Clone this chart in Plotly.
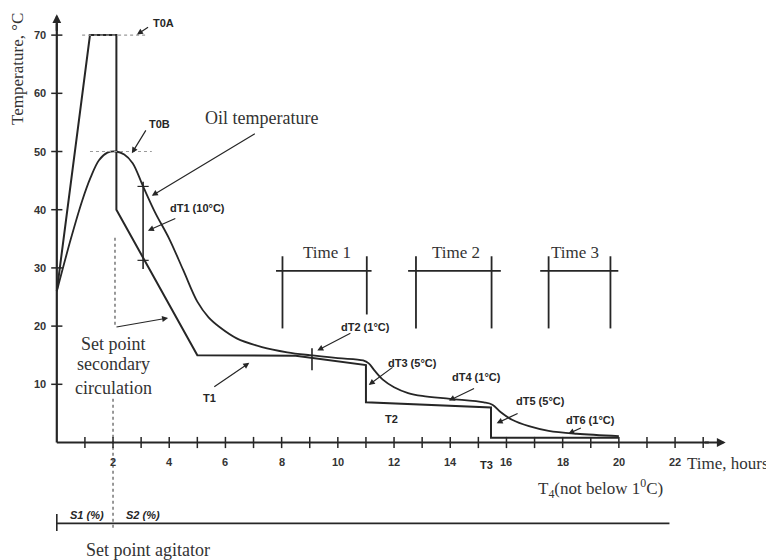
import plotly.graph_objects as go

# ---------------- data ----------------
# Set point secondary circulation (piecewise)
sp_x = [0, 1.18, 2.12, 2.12, 5.0, 8.5, 11.0, 11.0, 15.45, 15.45, 20.0]
sp_y = [26, 70, 70, 40, 15, 14.9, 13.3, 6.9, 6.0, 0.8, 0.8]

# Oil temperature
oil_x = [0, 0.5, 0.9, 1.2, 1.5, 1.8, 2.1, 2.4, 2.7, 3.07, 3.5, 4.0, 4.5, 5.0, 5.4, 5.8, 6.4, 7.3,
         8.2, 9.0, 10.0, 10.9, 11.1, 11.3, 11.6, 12.0, 12.5, 13.0, 14.0, 15.2, 15.5, 15.8, 16.2,
         16.8, 17.5, 18.5, 20.0]
oil_y = [26, 35, 41.5, 45.5, 48.5, 49.8, 50, 49.5, 48, 44, 39.5, 35, 29.6, 24.2, 21.5, 19.8, 17.9, 16.4,
         15.5, 15.0, 14.5, 14.1, 13.6, 12.4, 10.8, 9.5, 8.5, 8.0, 7.5, 6.9, 6.5, 5.2, 3.9,
         2.8, 2.0, 1.5, 1.1]

x_ticks = list(range(1, 24))
x_tick_labels = [2, 4, 6, 8, 10, 12, 14, 16, 18, 20, 22]
y_ticks = [10, 20, 30, 40, 50, 60, 70]

time_names = ["Time 1", "Time 2", "Time 3"]
time_title_x = [9.6, 14.2, 18.45]
time_left = [8.03, 12.78, 17.5]
time_right = [11.03, 15.47, 19.7]
time_bar_left = [7.8, 12.5, 17.2]
time_bar_right = [11.2, 15.8, 19.98]
time_left_bottom = [19.6, 19.6, 19.6]
time_right_bottom = [22.0, 19.6, 19.6]

# dT annotations: label, label x, label y, arrow tail x, tail y, head x, head y
dt_labels = ["dT1 (10°C)", "dT2 (1°C)", "dT3 (5°C)", "dT4 (1°C)", "dT5 (5°C)", "dT6 (1°C)"]
dt_lx = [5.0, 10.97, 12.67, 14.95, 17.2, 19.0]
dt_ly = [40.3, 19.9, 13.7, 11.2, 7.2, 3.8]
dt_tx = [4.27, 10.5, 12.0, 14.9, 16.45, 18.7]
dt_ty = [38.6, 18.9, 13.1, 9.4, 5.1, 2.6]
dt_hx = [3.24, 9.27, 11.1, 13.95, 15.65, 18.2]
dt_hy = [36.4, 15.8, 9.9, 7.2, 3.3, 1.5]

INK = "#262626"
SERIF = "Liberation Serif, Times New Roman, serif"
SANS = "Liberation Sans, Arial, sans-serif"

fig = go.Figure()

def line(x, y, width=2, dash="solid", color=INK, shape="linear"):
    fig.add_trace(go.Scatter(x=x, y=y, mode="lines", hoverinfo="skip", showlegend=False,
                             line=dict(color=color, width=width, dash=dash, shape=shape)))

# curves
line(sp_x, sp_y, width=2)
line(oil_x, oil_y, width=1.8, shape="spline")

# T0A / T0B dotted guides
line([0.9, 3.2], [70, 70], width=1.2, dash="dot", color="#9a9a9a")
line([1.18, 3.38], [50, 50], width=1.2, dash="dot", color="#9a9a9a")

# dT1 and dT2 measurement bars
line([3.07, 3.07], [44.8, 29.8], width=1.6)
fig.add_trace(go.Scatter(x=[3.07, 3.07], y=[44, 31.3], mode="markers", hoverinfo="skip", showlegend=False,
                         marker=dict(symbol="line-ew", size=8, line=dict(width=1.2, color=INK))))
line([9.08, 9.08], [16.2, 12.4], width=1.6)

# Time windows
for i in range(3):
    line([time_bar_left[i], time_bar_right[i]], [29.5, 29.5], width=1.8)
    line([time_left[i], time_left[i]], [32.0, time_left_bottom[i]], width=1.8)
    line([time_right[i], time_right[i]], [32.0, time_right_bottom[i]], width=1.8)

# set point secondary circulation bracket
line([2.07, 2.07], [35.2, 19.8], width=1.2, dash="dot", color="#555")
# set point agitator dashed line
line([2.0, 2.0], [7.5, -15], width=1.2, dash="dot", color="#555")

# agitator row
line([0, 21.8], [-13.9, -13.9], width=1.6)
line([0, 0], [-12.3, -15.2], width=1.6)

# axes lines
line([0, 0], [0, 72], width=2.2)
line([0, 23.2], [0, 0], width=2.2)

# ticks
fig.add_trace(go.Scatter(x=x_ticks, y=[0] * len(x_ticks), mode="markers", hoverinfo="skip", showlegend=False,
                         marker=dict(symbol="line-ns", size=8, line=dict(width=1.5, color=INK))))
fig.add_trace(go.Scatter(x=[0] * len(y_ticks), y=y_ticks, mode="markers", hoverinfo="skip", showlegend=False,
                         marker=dict(symbol="line-ew", size=8, line=dict(width=1.5, color=INK))))

ann = []

def arrow(hx, hy, tx, ty, width=1.2, head=2, size=1.0):
    ann.append(dict(x=hx, y=hy, ax=tx, ay=ty, xref="x", yref="y", axref="x", ayref="y", text="",
                    showarrow=True, arrowhead=head, arrowsize=size, arrowwidth=width, arrowcolor=INK,
                    standoff=0, startstandoff=0))

def text(x, y, s, size=12, family=SANS, color=INK, xanchor="center", yanchor="middle", angle=0):
    ann.append(dict(x=x, y=y, xref="x", yref="y", text=s, showarrow=False, xanchor=xanchor, yanchor=yanchor,
                    textangle=angle, font=dict(size=size, family=family, color=color)))

# axis arrowheads
arrow(0, 73.6, 0, 70.5, width=2.2, head=2, size=0.8)
arrow(23.8, 0, 23.0, 0, width=2.2, head=2, size=0.8)

# tick labels
for v in x_tick_labels:
    text(v, -3.4, "<b>" + str(v) + "</b>", size=11, family=SANS, color="#333")
for v in y_ticks:
    text(-0.32, v, "<b>" + str(v) + "</b>", size=11, family=SANS, color="#333", xanchor="right")

# axis titles
text(-1.38, 64.2, "Temperature, °C", size=17, family=SERIF, color="#333", angle=-90)
text(22.35, -3.6, "Time, hours", size=17, family=SERIF, color="#333", xanchor="left")
text(19.35, -7.9, "T<sub>4</sub>(not below 1<sup>0</sup>C)", size=17, family=SERIF, color="#333")

# labels with arrows
text(3.8, 72.0, "<b>T0A</b>", size=11)
arrow(2.85, 70.1, 3.3, 71.5)
text(3.67, 54.7, "<b>T0B</b>", size=11)
arrow(2.67, 49.7, 3.2, 53.9)
text(7.3, 55.7, "Oil temperature", size=18, family=SERIF, color="#333")
arrow(3.38, 42.4, 7.1, 53.2)

for i in range(len(dt_labels)):
    text(dt_lx[i], dt_ly[i], "<b>" + dt_labels[i] + "</b>", size=11)
    arrow(dt_hx[i], dt_hy[i], dt_tx[i], dt_ty[i])

# set point secondary circulation
arrow(3.96, 21.4, 2.07, 19.8)
text(2.0, 17.0, "Set point", size=18, family=SERIF, color="#333")
text(2.0, 13.5, "secondary", size=18, family=SERIF, color="#333")
text(2.0, 9.4, "circulation", size=18, family=SERIF, color="#333")

# T labels
text(5.45, 7.6, "<b>T1</b>", size=11)
arrow(6.85, 13.7, 5.55, 9.4)
text(11.9, 4.1, "<b>T2</b>", size=11)
text(15.3, -3.9, "<b>T3</b>", size=11)

# time windows titles
for i in range(3):
    text(time_title_x[i], 32.7, time_names[i], size=17, family=SERIF, color="#333")

# agitator row labels
text(1.07, -12.5, "<b><i>S1 (%)</i></b>", size=11)
text(3.07, -12.5, "<b><i>S2 (%)</i></b>", size=11)
text(3.25, -18.4, "Set point agitator", size=18, family=SERIF, color="#333")

# page body has an 8px margin, so the figure starts at (8, 8) in the window
fig.update_layout(
    width=766, height=552,
    margin=dict(l=0, r=0, t=0, b=0),
    paper_bgcolor="white", plot_bgcolor="white",
    xaxis=dict(range=[-1.737, 25.52], visible=False, fixedrange=True),
    yaxis=dict(range=[-20.19, 74.66], visible=False, fixedrange=True),
    annotations=ann,
    showlegend=False,
)

fig.write_html("out.html")
